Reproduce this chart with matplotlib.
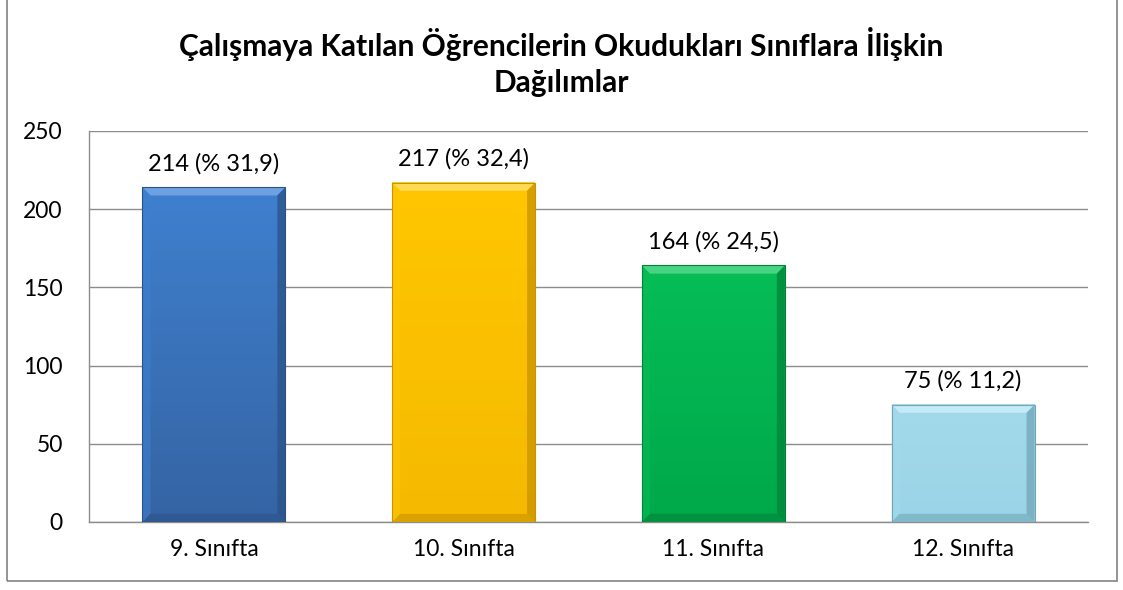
import matplotlib.pyplot as plt
import numpy as np
from matplotlib.patches import Polygon, Rectangle

categories = ["9. Sınıfta", "10. Sınıfta", "11. Sınıfta", "12. Sınıfta"]
counts = [214, 217, 164, 75]
percents = ["31,9", "32,4", "24,5", "11,2"]
title = "Çalışmaya Katılan Öğrencilerin Okudukları Sınıflara İlişkin\nDağılımlar"

# face colour, darker bottom colour, light top bevel, dark side bevel
colors = [
    ("#3F80CF", "#3564A3", "#77A8E6", "#2B5287"),
    ("#FFC600", "#F5BA00", "#FFE066", "#C99300"),
    ("#06BD56", "#00A84A", "#55D98C", "#00843A"),
    ("#A2DAEB", "#9BD4E6", "#CBEEF7", "#6FA7B8"),
]

plt.rcParams['font.family'] = ['Lato', 'DejaVu Sans']

fig = plt.figure(figsize=(11.23, 5.9), dpi=100)
ax = fig.add_axes([0.0793, 0.1153, 0.8895, 0.6627])

x = np.arange(len(categories))
width = 0.572
bars = ax.bar(x, counts, width=width, color=[c[0] for c in colors], zorder=3)

ax.set_xlim(-0.5, len(categories) - 0.5)
ax.set_ylim(0, 250)
ax.set_yticks(np.arange(0, 251, 50))
ax.yaxis.grid(True, color="#8c8c8c", linewidth=1.0, zorder=0)
ax.set_axisbelow(True)

# bevel look: vertical gradient + edge facets
bx = 0.032   # bevel width in category units
by = 5.2     # bevel height in data units
for i, b in enumerate(bars):
    face, low, top, side = colors[i]
    x0, w, h = b.get_x(), b.get_width(), b.get_height()
    x1 = x0 + w
    grad = np.linspace(0, 1, 64).reshape(-1, 1)
    c0 = np.array(plt.matplotlib.colors.to_rgb(low))
    c1 = np.array(plt.matplotlib.colors.to_rgb(face))
    img = c0 + (c1 - c0) * grad[..., None]
    ax.imshow(img, extent=(x0, x1, 0, h), origin="lower", aspect="auto", zorder=3.5)
    facets = [
        ([(x0, h), (x1, h), (x1 - bx, h - by), (x0 + bx, h - by)], top, 0.85),
        ([(x0, 0), (x0, h), (x0 + bx, h - by), (x0 + bx, by)], face, 0.55),
        ([(x1, 0), (x1, h), (x1 - bx, h - by), (x1 - bx, by)], side, 0.75),
        ([(x0, 0), (x1, 0), (x1 - bx, by), (x0 + bx, by)], side, 0.6),
    ]
    for pts, col, a in facets:
        ax.add_patch(Polygon(pts, closed=True, facecolor=col, edgecolor="none", alpha=a, zorder=4))
    ax.add_patch(Rectangle((x0, 0), w, h, fill=False, edgecolor=side, linewidth=0.8, zorder=5))
    ax.annotate(f"{counts[i]} (% {percents[i]})", (x0 + w / 2, h),
                xytext=(0, 9.5), textcoords="offset points", ha="center", va="bottom",
                fontsize=17, color="#000000")

ax.set_xticks(x)
ax.set_xticklabels(categories, fontsize=16.5)
ax.tick_params(axis="x", length=0, pad=12)
ax.tick_params(axis="y", length=0, pad=19, labelsize=16.5)
for lab in ax.get_yticklabels():
    lab.set_horizontalalignment("right")

for s in ["top", "right"]:
    ax.spines[s].set_visible(False)
for s in ["left", "bottom"]:
    ax.spines[s].set_color("#8c8c8c")
    ax.spines[s].set_linewidth(1.0)

fig.text(0.5, 0.895, title, ha="center", va="center", fontsize=21.5,
         fontweight="bold", linespacing=1.32)

# outer chart border
fig.add_artist(Rectangle((6.5 / 1123, 1 - 581 / 590), (1117 - 6.5) / 1123, 1.0,
                         transform=fig.transFigure, fill=False, edgecolor="#8c8c8c",
                         linewidth=1.3))

fig.savefig("out.png", dpi=100)
